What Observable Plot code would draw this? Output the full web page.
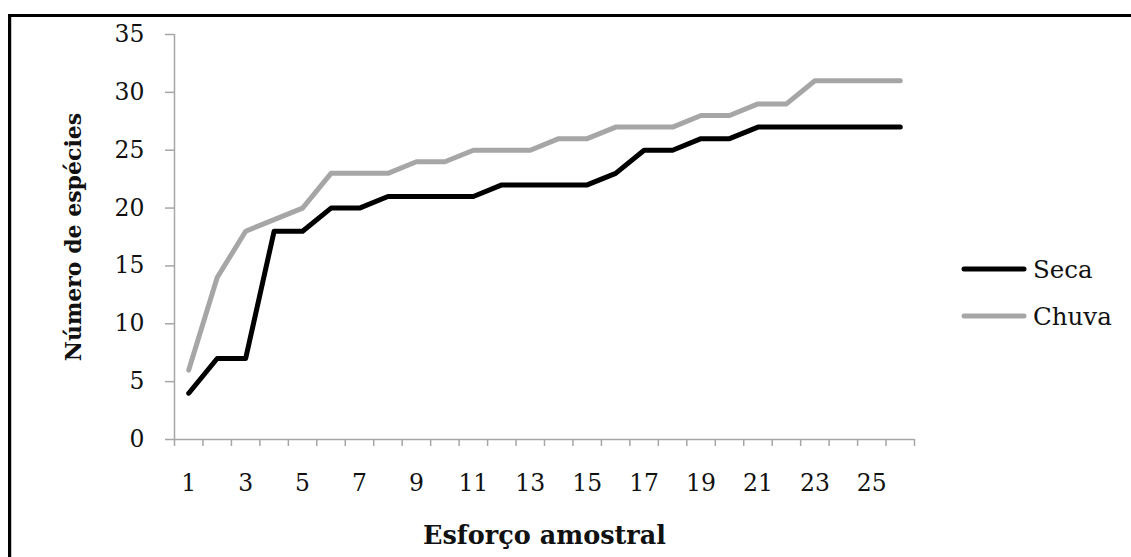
<!DOCTYPE html>
<html>
<head>
<meta charset="utf-8">
<script src="https://cdn.jsdelivr.net/npm/d3@7"></script>
<script src="https://cdn.jsdelivr.net/npm/@observablehq/plot@0.6"></script>
<style>
  html, body { margin: 0; padding: 0; background: #fff; }
  #wrap { position: relative; width: 1131px; height: 557px; overflow: hidden; }
  #frame { position: absolute; left: 8px; top: 14px; width: 1200px; height: 600px;
           border-left: 3px solid #000; border-top: 3px solid #000; }
  #frame2 { position: absolute; left: 11px; top: 17px; width: 1px; height: 600px; background: #c8c8c8; }
  #chart { position: absolute; left: 0; top: 0; }
  .leg { position: absolute; left: 958px; height: 30px; display: flex; align-items: center;
         font-family: "DejaVu Serif", serif; font-size: 24.5px; color: #111; }
  .leg svg { display: block; margin-right: 3px; }
</style>
</head>
<body>
<div id="wrap">
  <div id="frame"></div>
  <div id="frame2"></div>
  <div id="chart"></div>
  <div id="legend"></div>
</div>
<script>
const esforco = [1,2,3,4,5,6,7,8,9,10,11,12,13,14,15,16,17,18,19,20,21,22,23,24,25,26];
const seca  = [4,7,7,18,18,20,20,21,21,21,21,22,22,22,22,23,25,25,26,26,27,27,27,27,27,27];
const chuva = [6,14,18,19,20,23,23,23,24,24,25,25,25,26,26,27,27,27,28,28,29,29,31,31,31,31];
const seriesNames = ["Seca", "Chuva"];
const seriesColors = ["#000000", "#a6a6a6"];
const yTicks = [0,5,10,15,20,25,30,35];
const xTickLabels = [1,3,5,7,9,11,13,15,17,19,21,23,25];
const xBoundaries = d3.range(0.5, 27, 1);
const yTitle = "Número de espécies";
const xTitle = "Esforço amostral";

const dataSeca = esforco.map((x, i) => ({x, y: seca[i]}));
const dataChuva = esforco.map((x, i) => ({x, y: chuva[i]}));

const W = 1131, H = 557, ML = 174, MR = 217, MT = 34, MB = 118;
const frameW = W - ML - MR, frameH = H - MT - MB;
const axisColor = "#a6a6a6";
const font = "'DejaVu Serif', serif";

const chart = Plot.plot({
  width: W,
  height: H,
  marginLeft: ML,
  marginRight: MR,
  marginTop: MT,
  marginBottom: MB,
  x: {domain: [0.5, 26.5], axis: null},
  y: {domain: [0, 35], axis: null},
  style: {fontFamily: font, fontSize: "23px", background: "transparent", color: "#111"},
  marks: [
    Plot.ruleY([0], {stroke: axisColor, strokeWidth: 1.5}),
    Plot.ruleX([0.5], {stroke: axisColor, strokeWidth: 1.5}),
    Plot.ruleY(yTicks, {y: d => d, stroke: axisColor, strokeWidth: 1.5, insetLeft: -9, insetRight: frameW}),
    Plot.ruleX(xBoundaries, {x: d => d, stroke: axisColor, strokeWidth: 1.5, insetTop: frameH, insetBottom: -7}),
    Plot.text(yTicks, {y: d => d, text: d => String(d), frameAnchor: "left", dx: -30, textAnchor: "end", lineAnchor: "middle", fill: "#111", fontSize: 23.5}),
    Plot.text(xTickLabels, {x: d => d, text: d => String(d), frameAnchor: "bottom", dy: 44, textAnchor: "middle", lineAnchor: "middle", fill: "#111", fontSize: 23.5}),
    Plot.line(dataChuva, {x: "x", y: "y", stroke: seriesColors[1], strokeWidth: 5, strokeLinecap: "round", strokeLinejoin: "round"}),
    Plot.line(dataSeca, {x: "x", y: "y", stroke: seriesColors[0], strokeWidth: 5, strokeLinecap: "round", strokeLinejoin: "round"}),
    Plot.text([yTitle], {frameAnchor: "left", dx: -101, rotate: -90, text: d => d, textAnchor: "middle", lineAnchor: "middle", fontWeight: "bold", fontSize: 22, fill: "#111"}),
    Plot.text([xTitle], {frameAnchor: "bottom", dy: 96, text: d => d, textAnchor: "middle", lineAnchor: "middle", fontWeight: "bold", fontSize: 25.5, fill: "#111"})
  ]
});
document.getElementById("chart").appendChild(chart);

const legendTops = [269, 316];
const legend = document.getElementById("legend");
seriesNames.forEach((name, i) => {
  const item = document.createElement("div");
  item.className = "leg";
  item.style.top = (legendTops[i] - 15) + "px";
  item.innerHTML = `<svg width="72" height="10"><line x1="6" y1="5" x2="66" y2="5" stroke="${seriesColors[i]}" stroke-width="5" stroke-linecap="round"/></svg><span>${name}</span>`;
  legend.appendChild(item);
});
</script>
</body>
</html>
